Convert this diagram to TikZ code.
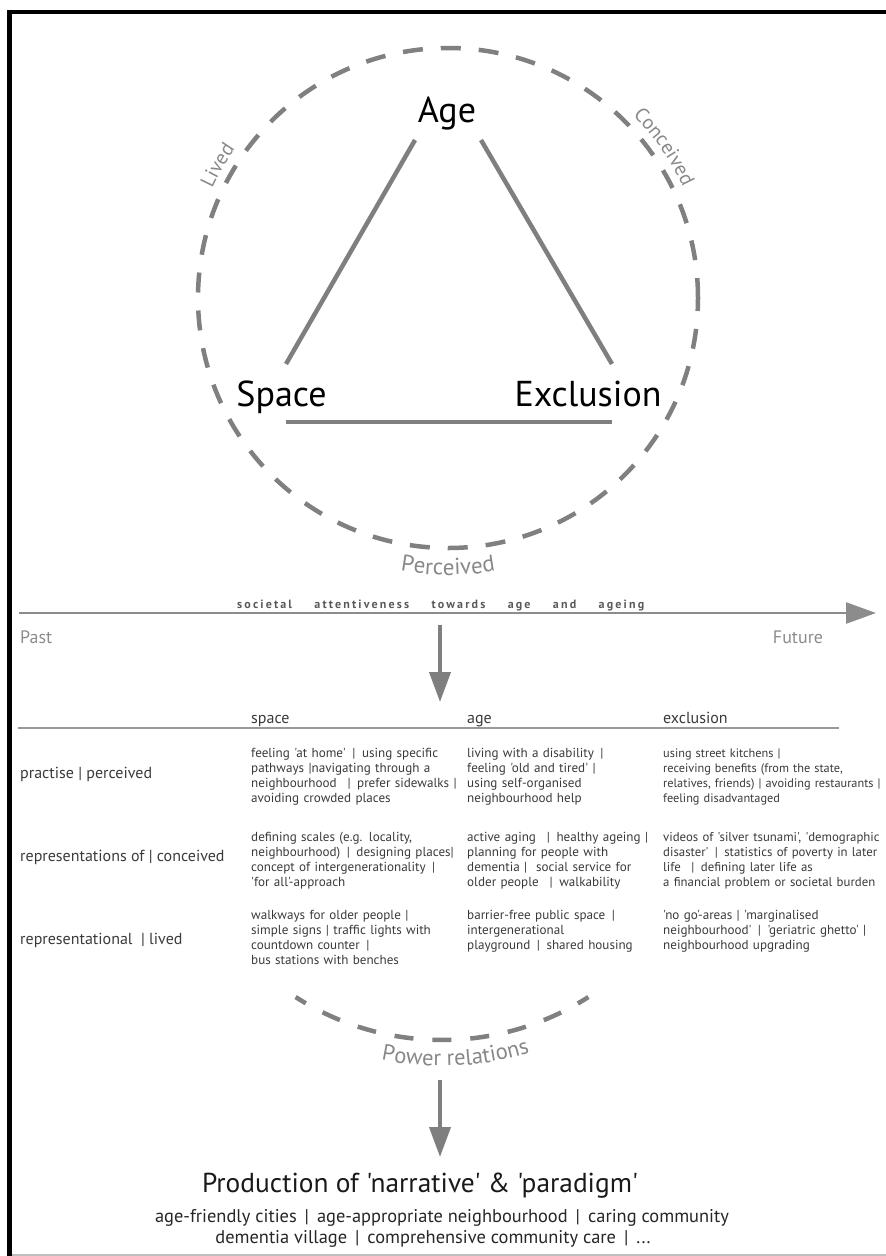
\documentclass[tikz,border=0pt]{standalone}
\usepackage{fontspec}
\newfontfamily\pts{PT Sans}
\newfontfamily\ptsp[LetterSpace=18]{PT Sans}
\usetikzlibrary{decorations.text,arrows.meta,calc}
\definecolor{dashgray}{HTML}{808080}
\definecolor{linegray}{HTML}{7F7F7F}
\definecolor{lblgray}{HTML}{888888}
\definecolor{txtgray}{HTML}{3A3A3A}
\definecolor{axisgray}{HTML}{8C8C8C}
\begin{document}
\begin{tikzpicture}[x=1pt,y=1pt,
  big/.style={font=\pts\fontsize{36}{40}\selectfont, inner sep=0pt, anchor=base, text=black},
  hdr/.style={font=\pts\fontsize{16}{18}\selectfont, inner sep=0pt, anchor=base west, text=txtgray},
  rowlbl/.style={font=\pts\fontsize{16}{18}\selectfont, inner sep=0pt, anchor=base west, text=txtgray},
  cell/.style={font=\pts\fontsize{13.1}{15.3}\selectfont, inner sep=0pt, anchor=base west, align=left, text width=218pt, text=txtgray},
  tri/.style={line width=4.5pt, draw=linegray},
  circdash/.style={line width=4.5pt, draw=dashgray, dash pattern=on 20pt off 18pt},
  downarrow/.style={line width=4pt, draw=linegray, -{Triangle[length=30pt,width=21pt]}},
  curvetext/.style={decorate, decoration={text along path, text align=center}}
]
\useasboundingbox (0,0) rectangle (886,-1256);
% frame
\draw[line width=1.5pt, draw=black!25] (12,-1255) -- (886,-1255);
\draw[line width=4.5pt, black] (9.5,-1256) -- (9.5,-12) -- (886,-12);

% circle
\coordinate (C) at (448,-298);
\draw[circdash] (C) circle[radius=250];
\path[curvetext, decoration={text={|\pts\fontsize{20}{22}\selectfont\color{lblgray}|Lived}}]
  ($(C)+(170:260)$) arc[start angle=170, end angle=130, radius=260];
\path[curvetext, decoration={text={|\pts\fontsize{20}{22}\selectfont\color{lblgray}|Conceived}}]
  ($(C)+(55:260)$) arc[start angle=55, end angle=15, radius=260];
\path[curvetext, decoration={text={|\pts\fontsize{23}{25}\selectfont\color{lblgray}|Perceived}}]
  ($(C)+(250:277)$) arc[start angle=250, end angle=290, radius=277];

% triangle
\node[big] (Age) at (447,-122) {Age};
\node[big] (Space) at (281.5,-406) {Space};
\node[big] (Excl) at (588,-406) {Exclusion};
\coordinate (AgeL) at (415,-140);
\coordinate (AgeR) at (481,-140);
\coordinate (SpT) at (286,-364);
\coordinate (ExT) at (612,-364);
\coordinate (SpB) at (286,-422);
\coordinate (ExB) at (612,-422);
\draw[tri] (AgeL) -- (SpT);
\draw[tri] (AgeR) -- (ExT);
\draw[tri] (SpB) -- (ExB);

% timeline
\coordinate (tl0) at (19,-613);
\coordinate (tl1) at (876,-613);
\draw[line width=2.5pt, draw=axisgray, -{Triangle[length=30pt,width=21pt]}] (tl0) -- (tl1);
\node[anchor=base west, inner sep=0pt, font=\ptsp\bfseries\fontsize{12}{13}\selectfont, text=black!65] (soc) at (237,-608)
  {\makebox[407pt][s]{societal attentiveness towards age and ageing}};
\node[anchor=base west, inner sep=0pt, font=\pts\fontsize{18}{20}\selectfont, text=axisgray] (past) at (20,-643) {Past};
\node[anchor=base, inner sep=0pt, font=\pts\fontsize{18}{20}\selectfont, text=axisgray] (future) at (798,-643) {Future};

\coordinate (d1a) at (440,-625);
\coordinate (d1b) at (440,-702);
\draw[downarrow] (d1a) -- (d1b);

% table
\coordinate (tb0) at (18,-728);
\coordinate (tb1) at (839,-728);
\draw[line width=2pt, draw=black!40] (tb0) -- (tb1);
\node[hdr] (hs) at (251,-723) {space};
\node[hdr] (ha) at (467,-723) {age};
\node[hdr] (he) at (663,-723) {exclusion};

\node[rowlbl] (r1) at (20,-778) {practise | perceived};
\node[rowlbl] (r2) at (20,-861) {representations of | conceived};
\node[rowlbl] (r3) at (20,-944) {representational \ | lived};

\node[cell] (s1) at (251,-757) {feeling 'at home' \,|\, using specific\\pathways |navigating through a\\neighbourhood \enspace|\enspace prefer sidewalks |\\avoiding crowded places};
\node[cell] (a1) at (467,-757) {living with a disability \,|\\feeling 'old and tired' |\\using self-organised\\neighbourhood help};
\node[cell, text width=223pt, font=\pts\fontsize{12.3}{15.3}\selectfont] (e1) at (663,-757) {using street kitchens |\\receiving benefits (from the state,\\relatives, friends) | avoiding restaurants |\\feeling disadvantaged};

\node[cell] (s2) at (251,-841) {defining scales (e.g. locality,\\neighbourhood) \,|\, designing places|\\concept of intergenerationality \,|\\'for all'-approach};
\node[cell] (a2) at (467,-841) {active aging \enspace|\enspace healthy ageing |\\planning for people with\\dementia | \ social service for\\older people \enspace|\enspace walkability};
\node[cell, font=\pts\fontsize{12.8}{15.3}\selectfont] (e2) at (663,-841) {videos of 'silver tsunami', 'demographic\\disaster' \,|\, statistics of poverty in later\\life \enspace|\enspace defining later life as\\a financial problem or societal burden};

\node[cell] (s3) at (251,-919) {walkways for older people |\\simple signs | traffic lights with\\countdown counter \,|\\bus stations with benches};
\node[cell] (a3) at (467,-919) {barrier-free public space \,|\\intergenerational\\playground \,|\, shared housing};
\node[cell] (e3) at (663,-919) {'no go'-areas | 'marginalised\\neighbourhood' \,|\, 'geriatric ghetto' |\\neighbourhood upgrading};

% power relations
\coordinate (P) at (442,-769);
\draw[circdash, dash pattern=on 19pt off 19pt, dash phase=7pt] ($(P)+(-122.7:271)$) arc[start angle=-122.7, end angle=-57.3, radius=271];
\path[curvetext, decoration={text={|\pts\fontsize{22.5}{24}\selectfont\color{lblgray}|Power relations}}]
  ($(P)+(-107.3:297)$) arc[start angle=-107.3, end angle=-67.3, radius=297];

\coordinate (d2a) at (440,-1080);
\coordinate (d2b) at (440,-1157);
\draw[downarrow] (d2a) -- (d2b);

\node[anchor=base, inner sep=0pt, font=\pts\fontsize{27.4}{30}\selectfont, text=black!90] (prod) at (420,-1192) {Production of 'narrative' \& 'paradigm'};
\node[anchor=base, inner sep=0pt, font=\pts\fontsize{18.4}{21}\selectfont, text=black!85] (ex1) at (442,-1222) {age-friendly cities \,|\, age-appropriate neighbourhood \,|\, caring community};
\node[anchor=base, inner sep=0pt, font=\pts\fontsize{18.4}{21}\selectfont, text=black!85] (ex2) at (433,-1243) {dementia village \,|\, comprehensive community care \,|\, ...};
\end{tikzpicture}
\end{document}
